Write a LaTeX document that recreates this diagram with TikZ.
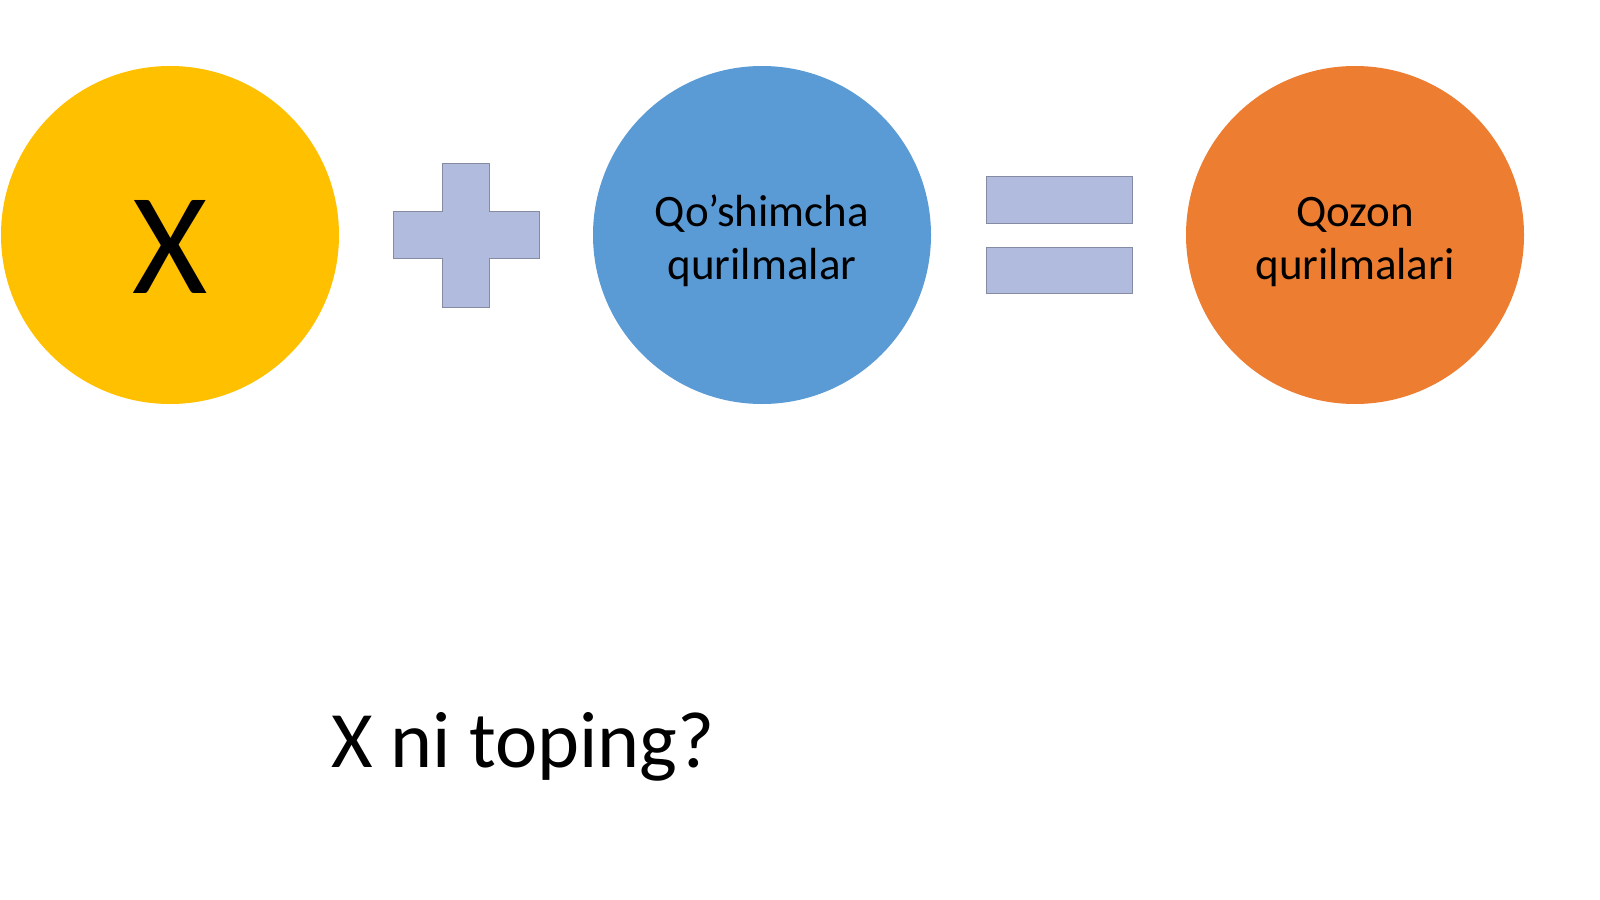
\documentclass[tikz,border=0pt]{standalone}
\usepackage{fontspec}
\setmainfont{Carlito}
\definecolor{cyellow}{HTML}{FFC000}
\definecolor{cblue}{HTML}{5B9BD5}
\definecolor{corange}{HTML}{ED7D31}
\definecolor{opfill}{HTML}{B1BBDD}
\definecolor{opline}{HTML}{858BA3}
\begin{document}
\begin{tikzpicture}[x=1pt,y=-1pt,
  ball/.style={circle, minimum size=338pt, inner sep=0pt, draw=none},
  balltext/.style={anchor=base, inner sep=0pt, text=black, font=\fontsize{45}{54}\selectfont},
  opshape/.style={fill=opfill, draw=opline, line width=1pt}]
\useasboundingbox[fill=white] (0,0) rectangle (1600,899);
\node[ball, fill=cyellow] (x) at (170,235) {};
\node[anchor=base, inner sep=0pt, font=\fontsize{145}{150}\selectfont] (xt) at (170,293) {X};
\draw[opshape] (442,163) -- (489,163) -- (489,211) -- (539,211) -- (539,258) -- (489,258) -- (489,307) -- (442,307) -- (442,258) -- (393,258) -- (393,211) -- (442,211) -- cycle;
\node[ball, fill=cblue] (q) at (762,235) {};
\node[balltext] (q1) at (762,226) {Qo’shimcha};
\node[balltext] (q2) at (762,279) {qurilmalar};
\draw[opshape] (986,176) rectangle (1132,223);
\draw[opshape] (986,247) rectangle (1132,293);
\node[ball, fill=corange] (z) at (1355,235) {};
\node[balltext] (z1) at (1355,226) {Qozon};
\node[balltext] (z2) at (1355,279) {qurilmalari};
\node[anchor=base west, inner sep=0pt, font=\fontsize{80}{90}\selectfont] (t) at (331,767) {X ni toping?};
\end{tikzpicture}
\end{document}
